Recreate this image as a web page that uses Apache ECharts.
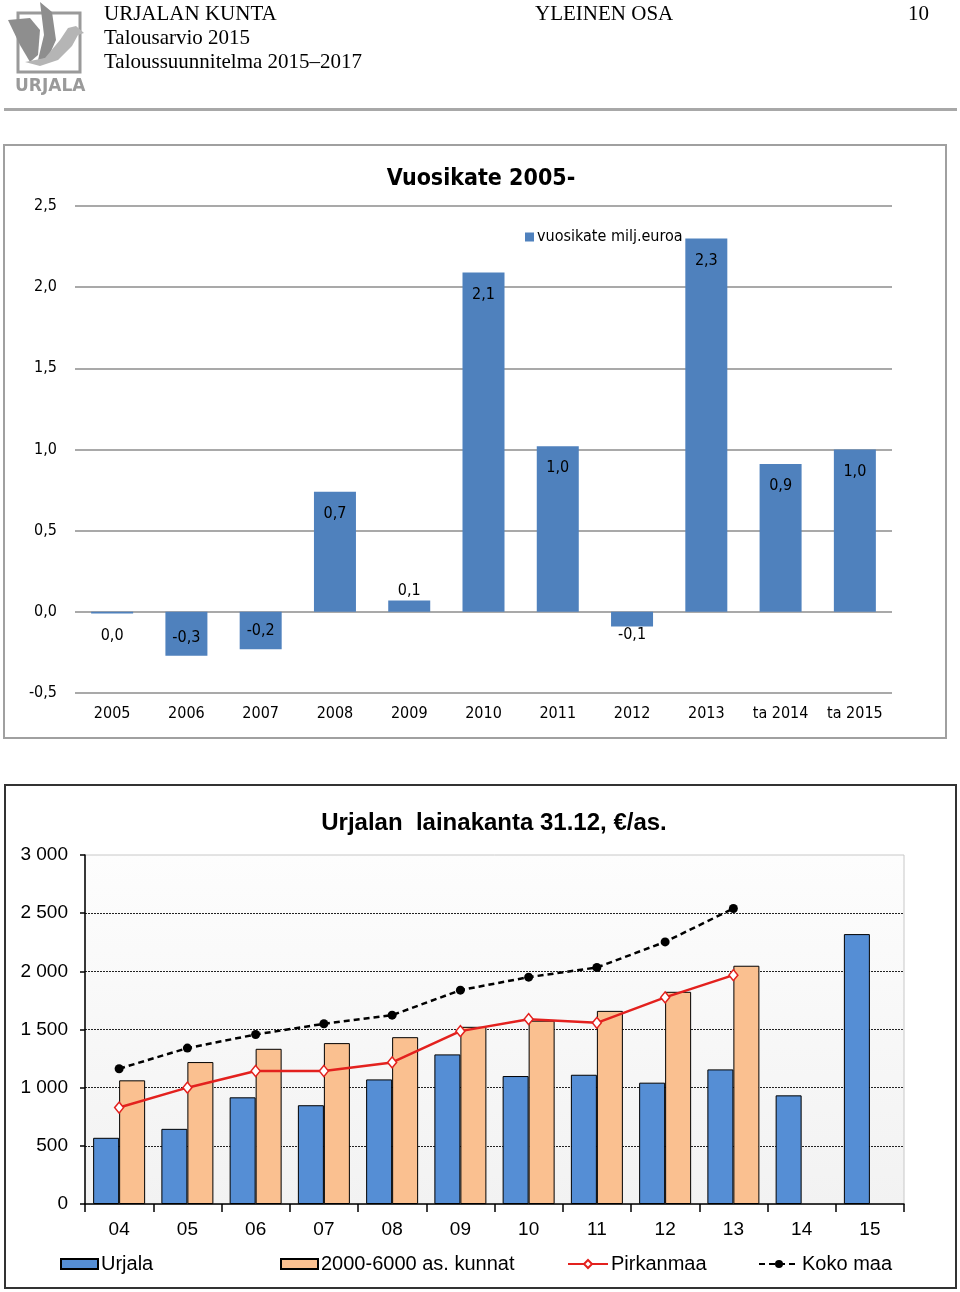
<!DOCTYPE html>
<html>
<head>
<meta charset="utf-8">
<script src="https://cdn.jsdelivr.net/npm/echarts@6/dist/echarts.min.js"></script>
<style>
html,body{margin:0;padding:0;background:#fff;}
#c{width:960px;height:1292px;}
</style>
</head>
<body>
<div id="c"></div>
<script>
// ---- Chart 1: Vuosikate ----
const years = ['2005','2006','2007','2008','2009','2010','2011','2012','2013','ta 2014','ta 2015'];
const vuosikate = [-0.01, -0.27, -0.23, 0.74, 0.07, 2.09, 1.02, -0.09, 2.30, 0.91, 1.00];
const yTicks1 = [-0.5, 0, 0.5, 1.0, 1.5, 2.0, 2.5];

// ---- Chart 2: Lainakanta ----
const years2 = ['04','05','06','07','08','09','10','11','12','13','14','15'];
const urjala = [569, 646, 917, 849, 1071, 1286, 1100, 1111, 1043, 1157, 934, 2320];
const kunnat = [1063, 1220, 1334, 1383, 1434, 1523, 1576, 1660, 1824, 2048, null, null];
const pirkanmaa = [829, 1000, 1143, 1143, 1217, 1486, 1589, 1557, 1776, 1967, null, null];
const kokomaa = [1163, 1340, 1457, 1549, 1623, 1838, 1950, 2033, 2253, 2540, null, null];
const yTicks2 = [0, 500, 1000, 1500, 2000, 2500, 3000];

const NARROW = '"Liberation Sans Narrow", "DejaVu Sans Condensed", "Open Sans", sans-serif';
const ARIAL = '"Liberation Sans", Arial, sans-serif';
const SERIF = '"Liberation Serif", "DejaVu Serif", serif';

function fmt1(v){ return v.toFixed(1).replace('.', ',').replace('-0,0','0,0'); }
function fmtThousands(v){ return String(v).replace(/\B(?=(\d{3})+(?!\d))/g, ' '); }

function barLabel(v){
  if (v >= 0.5) return {position:'insideTop', distance:14};
  if (v > 0) return {position:'top', distance:2};
  if (v <= -0.2) return {position:'insideBottom', distance:10};
  if (v <= -0.05) return {position:'bottom', distance:0};
  return {position:'bottom', distance:14};
}

const chart = echarts.init(document.getElementById('c'), null, {renderer:'canvas'});

const option = {
  animation: false,
  backgroundColor: '#fff',
  title: [
    {text:'Vuosikate 2005-', left: 476, top: 163, textAlign:'center',
     textStyle:{fontFamily:NARROW, fontWeight:'bold', fontSize:23, color:'#000'}},
    {text:'Urjalan  lainakanta 31.12, €/as.', left: 489, top: 806, textAlign:'center',
     textStyle:{fontFamily:ARIAL, fontWeight:'bold', fontSize:24, color:'#000'}}
  ],
  legend: [
    {data:['vuosikate milj.euroa'], left: 520, top: 224, itemWidth: 9, itemHeight: 9, itemGap: 4,
     icon:'rect', textStyle:{fontFamily:NARROW, fontSize:16, color:'#000', padding:[0,0,0,-2]}},
    {data:['Urjala'], left: 55, top: 1249, itemWidth: 37, itemHeight: 10, icon:'rect',
     textStyle:{fontFamily:ARIAL, fontSize:20, color:'#000', padding:[0,0,0,-2]}},
    {data:['2000-6000 as. kunnat'], left: 275, top: 1249, itemWidth: 37, itemHeight: 10, icon:'rect',
     textStyle:{fontFamily:ARIAL, fontSize:20, color:'#000', padding:[0,0,0,-2]}},
    {data:['Pirkanmaa'], left: 562, top: 1249, itemWidth: 40, itemHeight: 10,
     textStyle:{fontFamily:ARIAL, fontSize:20, color:'#000', padding:[0,0,0,-2]}},
    {data:['Koko maa'], left: 753, top: 1249, itemWidth: 40, itemHeight: 10,
     textStyle:{fontFamily:ARIAL, fontSize:20, color:'#000', padding:[0,0,0,-2]}}
  ],
  grid: [
    {left: 75, top: 206, width: 817, height: 487},
    {left: 85, top: 855, width: 819, height: 349, show: true,
     backgroundColor: new echarts.graphic.LinearGradient(0,0,0,1,[{offset:0,color:'#fdfdfd'},{offset:1,color:'#f2f2f2'}]),
     borderColor:'#c8c8c8', borderWidth:1}
  ],
  xAxis: [
    {type:'category', gridIndex:0, data: years,
     axisLine:{show:false}, axisTick:{show:false},
     axisLabel:{fontFamily:NARROW, fontSize:16, color:'#000', margin:13}},
    {type:'category', gridIndex:1, data: years2,
     axisLine:{show:true, onZero:false, lineStyle:{color:'#000', width:1.5}},
     axisTick:{show:true, inside:false, length:8, lineStyle:{color:'#000', width:1.5}},
     axisLabel:{fontFamily:ARIAL, fontSize:19, color:'#000', margin:16}}
  ],
  yAxis: [
    {type:'value', gridIndex:0, min: yTicks1[0], max: yTicks1[yTicks1.length-1], interval: 0.5,
     axisLine:{show:false}, axisTick:{show:false},
     splitLine:{show:true, lineStyle:{color:'#8c8c8c', width:1.5}},
     axisLabel:{fontFamily:NARROW, fontSize:16, color:'#000', margin:18, formatter: fmt1}},
    {type:'value', gridIndex:1, min: yTicks2[0], max: yTicks2[yTicks2.length-1], interval: 500,
     axisLine:{show:true, lineStyle:{color:'#000', width:1.5}},
     axisTick:{show:true, length:5, lineStyle:{color:'#000', width:1.5}},
     splitLine:{show:true, showMinLine:false, showMaxLine:false, lineStyle:{color:'#222', width:1, type:[2,1]}},
     axisLabel:{fontFamily:ARIAL, fontSize:19, color:'#000', margin:17, formatter: fmtThousands}}
  ],
  series: [
    {name:'vuosikate milj.euroa', type:'bar', xAxisIndex:0, yAxisIndex:0, barWidth: 42,
     itemStyle:{color:'#4F81BD'},
     data: vuosikate.map(v => ({value:v, label: Object.assign({show:true}, barLabel(v))})),
     label:{show:true, fontFamily:NARROW, fontSize:16, color:'#000',
            formatter: p => fmt1(p.value)}},
    {name:'Urjala', type:'bar', xAxisIndex:1, yAxisIndex:1, barWidth: 26, barGap:'0%',
     itemStyle:{color:'#558ED5', borderColor:'#000', borderWidth:1},
     data: urjala},
    {name:'2000-6000 as. kunnat', type:'bar', xAxisIndex:1, yAxisIndex:1, barWidth: 26, barGap:'0%',
     itemStyle:{color:'#FAC090', borderColor:'#000', borderWidth:1},
     data: kunnat},
    {name:'Pirkanmaa', type:'line', xAxisIndex:1, yAxisIndex:1, symbol:'diamond', symbolSize:[9,11],
     lineStyle:{color:'#E3211E', width:2.5}, itemStyle:{color:'#fff', borderColor:'#E3211E', borderWidth:1.5},
     data: pirkanmaa, z:5},
    {name:'Koko maa', type:'line', xAxisIndex:1, yAxisIndex:1, symbol:'circle', symbolSize:9,
     lineStyle:{color:'#000', width:2.5, type:[6,4]}, itemStyle:{color:'#000'},
     data: kokomaa, z:6}
  ],
  graphic: [
    // header
    {type:'text', left:104, top:4, style:{text:'URJALAN KUNTA', font:'21px '+SERIF, fill:'#000'}},
    {type:'text', left:104, top:28, style:{text:'Talousarvio 2015', font:'21px '+SERIF, fill:'#000'}},
    {type:'text', left:104, top:52, style:{text:'Taloussuunnitelma 2015–2017', font:'21px '+SERIF, fill:'#000'}},
    {type:'text', left:535, top:4, style:{text:'YLEINEN OSA', font:'21px '+SERIF, fill:'#000'}},
    {type:'text', left:908, top:4, style:{text:'10', font:'21px '+SERIF, fill:'#000'}},
    {type:'rect', shape:{x:4, y:108, width:953, height:3}, style:{fill:'#a8a8a8'}},
    // logo
    {type:'rect', shape:{x:18, y:13, width:62, height:59}, style:{fill:'none', stroke:'#9a9a9a', lineWidth:3}},
    {type:'polygon', shape:{points:[[8,20],[30,18],[40,30],[38,55],[30,62],[20,45]]}, style:{fill:'#8e8e8e'}},
    {type:'polygon', shape:{points:[[40,2],[52,12],[56,40],[48,58],[38,60],[44,35]]}, style:{fill:'#8e8e8e'}},
    {type:'polygon', shape:{points:[[25,62],[45,58],[60,40],[68,28],[76,26],[84,33],[78,35],[72,46],[58,60],[40,66]]}, style:{fill:'#b5b5b5'}},
    {type:'text', left:15, top:78, style:{text:'URJALA', font:'bold 17px "DejaVu Sans", sans-serif', fill:'#9a9a9a'}},
    // chart frames
    {type:'rect', shape:{x:4, y:145, width:942, height:593}, style:{fill:'none', stroke:'#a0a0a0', lineWidth:2}, z:-1},
    {type:'rect', shape:{x:5, y:785, width:951, height:503}, style:{fill:'none', stroke:'#333', lineWidth:2}, z:-1}
  ]
};
chart.setOption(option);
</script>
</body>
</html>
